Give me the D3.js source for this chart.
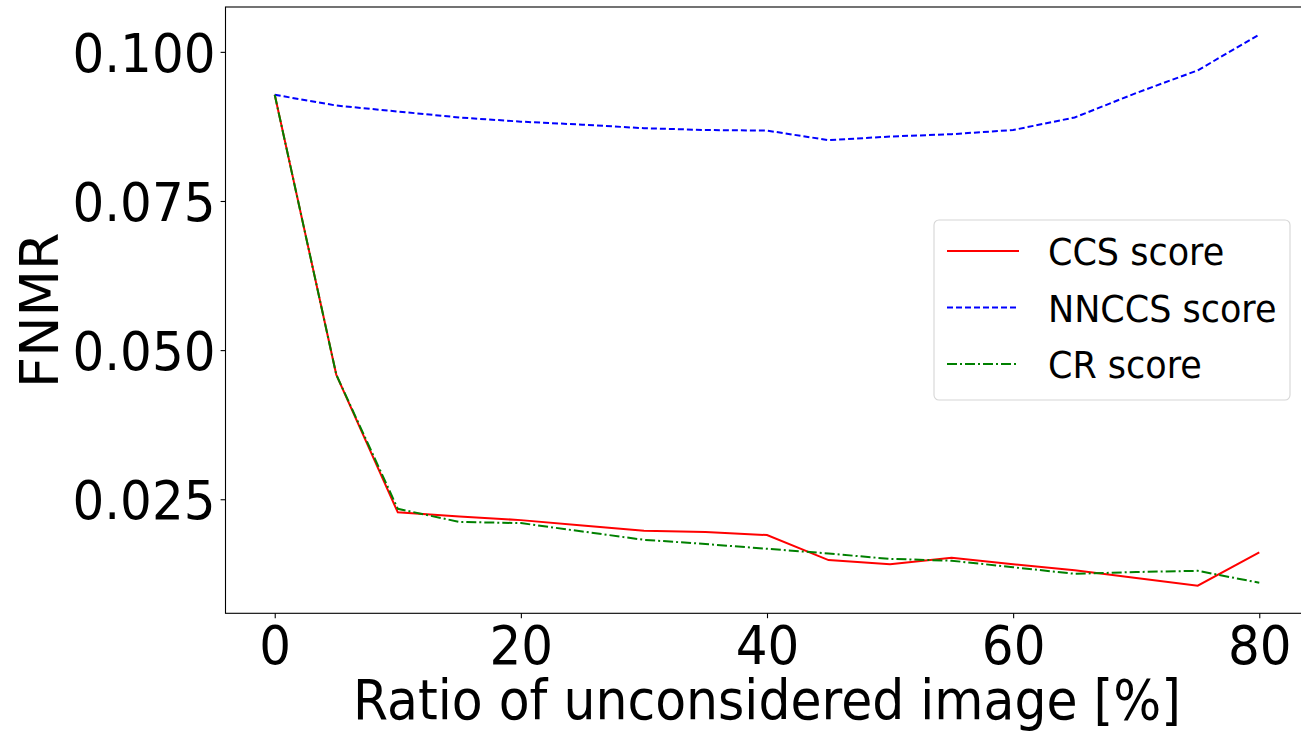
<!DOCTYPE html>
<meta charset="utf-8">
<style>
body { margin: 0; background: #fff; }
text { font-family: "DejaVu Sans", sans-serif; }
.axis path, .axis line { stroke: #000; stroke-width: 1.1; }
.axis text { font-size: 50px; fill: #000; }
</style>
<svg width="1301" height="732"></svg>
<script src="https://d3js.org/d3.v7.min.js"></script>
<script>
// values
var ratios = [0, 5, 10, 15, 20, 25, 30, 35, 40, 45, 50, 55, 60, 65, 70, 75, 80];
var ccsScore = [0.0928, 0.0459, 0.0228, 0.0221, 0.0215, 0.0206, 0.0197, 0.0195, 0.0190, 0.0148, 0.0141, 0.0152, 0.0141, 0.0131, 0.0118, 0.0105, 0.0161];
var nnccsScore = [0.0928, 0.0910, 0.0900, 0.0890, 0.0883, 0.0878, 0.0872, 0.0869, 0.0868, 0.0852, 0.0858, 0.0862, 0.0869, 0.0890, 0.0931, 0.0969, 0.1029];
var crScore = [0.0928, 0.0459, 0.0234, 0.0212, 0.0210, 0.0196, 0.0182, 0.0175, 0.0167, 0.0159, 0.0150, 0.0147, 0.0136, 0.0125, 0.0128, 0.0130, 0.0110];
var xTicks = [0, 20, 40, 60, 80];
var yTicks = [0.025, 0.050, 0.075, 0.100];
var seriesNames = ["CCS score", "NNCCS score", "CR score"];

var svg = d3.select("svg");
var plotLeft = 225.5, plotRight = 1308.5, plotTop = 7, plotBottom = 613.3;
var stretch = 1.08; // the reference glyphs are a bit taller than wide

function padded(ext) {
	var m = (ext[1] - ext[0]) * 0.05;
	return [ext[0] - m, ext[1] + m];
}

var x = d3.scaleLinear()
	.domain(padded(d3.extent(ratios)))
	.range([plotLeft, plotRight]);
var allY = ccsScore.concat(nnccsScore, crScore);
var y = d3.scaleLinear()
	.domain(padded(d3.extent(allY)))
	.range([plotBottom, plotTop]);

var series = [
	{name: seriesNames[0], values: ccsScore, color: "#ff0000", dash: null},
	{name: seriesNames[1], values: nnccsScore, color: "#0000ff", dash: "6,3"},
	{name: seriesNames[2], values: crScore, color: "#008000", dash: "10,3,2,3"}
];

var line = d3.line()
	.x(function(d, i) { return x(ratios[i]); })
	.y(function(d) { return y(d); });

svg.append("g")
	.selectAll("path")
	.data(series)
	.enter().append("path")
	.attr("d", function(d) { return line(d.values); })
	.attr("fill", "none")
	.attr("stroke", function(d) { return d.color; })
	.attr("stroke-width", 2)
	.attr("stroke-dasharray", function(d) { return d.dash; });

// axes
var xAxis = svg.append("g")
	.attr("class", "axis")
	.attr("transform", "translate(0," + plotBottom + ")")
	.call(d3.axisBottom(x).tickValues(xTicks).tickSize(4.9).tickPadding(5).tickSizeOuter(0));
xAxis.select(".domain").remove();
xAxis.selectAll("text")
	.attr("dy", null)
	.attr("y", 0)
	.attr("transform", "translate(0,51) scale(1," + stretch + ")");

var yAxis = svg.append("g")
	.attr("class", "axis")
	.attr("transform", "translate(" + plotLeft + ",0)")
	.call(d3.axisLeft(y).tickValues(yTicks).tickFormat(d3.format(".3f")).tickSize(4.9).tickPadding(5).tickSizeOuter(0));
yAxis.select(".domain").remove();
yAxis.selectAll("text")
	.attr("dy", "0.36em")
	.attr("x", 0)
	.attr("transform", "translate(-10,0) scale(1," + stretch + ")");

// frame
svg.append("rect")
	.attr("x", plotLeft)
	.attr("y", plotTop)
	.attr("width", plotRight - plotLeft)
	.attr("height", plotBottom - plotTop)
	.attr("fill", "none")
	.attr("stroke", "#000")
	.attr("stroke-width", 1.1);

// axis labels
svg.append("text")
	.attr("transform", "translate(" + ((plotLeft + plotRight) / 2) + ",719) scale(1," + stretch + ")")
	.attr("text-anchor", "middle")
	.style("font-size", "50.5px")
	.text("Ratio of unconsidered image [%]");

svg.append("text")
	.attr("transform", "translate(58," + ((plotTop + plotBottom) / 2) + ") rotate(-90)")
	.attr("text-anchor", "middle")
	.style("font-size", "54px")
	.text("FNMR");

// legend
var legend = svg.append("g").attr("transform", "translate(934,220)");
legend.append("rect")
	.attr("x", 0)
	.attr("y", 0)
	.attr("width", 356)
	.attr("height", 180)
	.attr("rx", 5)
	.attr("fill", "#fff")
	.attr("fill-opacity", 0.8)
	.attr("stroke", "#d6d6d6")
	.attr("stroke-width", 1.1);

var rows = legend.selectAll(".row")
	.data(series)
	.enter().append("g")
	.attr("class", "row")
	.attr("transform", function(d, i) { return "translate(0," + (31 + i * 56.5) + ")"; });
rows.append("line")
	.attr("x1", 13)
	.attr("x2", 85)
	.attr("stroke", function(d) { return d.color; })
	.attr("stroke-width", 2)
	.attr("stroke-dasharray", function(d) { return d.dash; });
rows.append("text")
	.attr("transform", "translate(114,14) scale(1," + stretch + ")")
	.style("font-size", "35px")
	.text(function(d) { return d.name; });
</script>
